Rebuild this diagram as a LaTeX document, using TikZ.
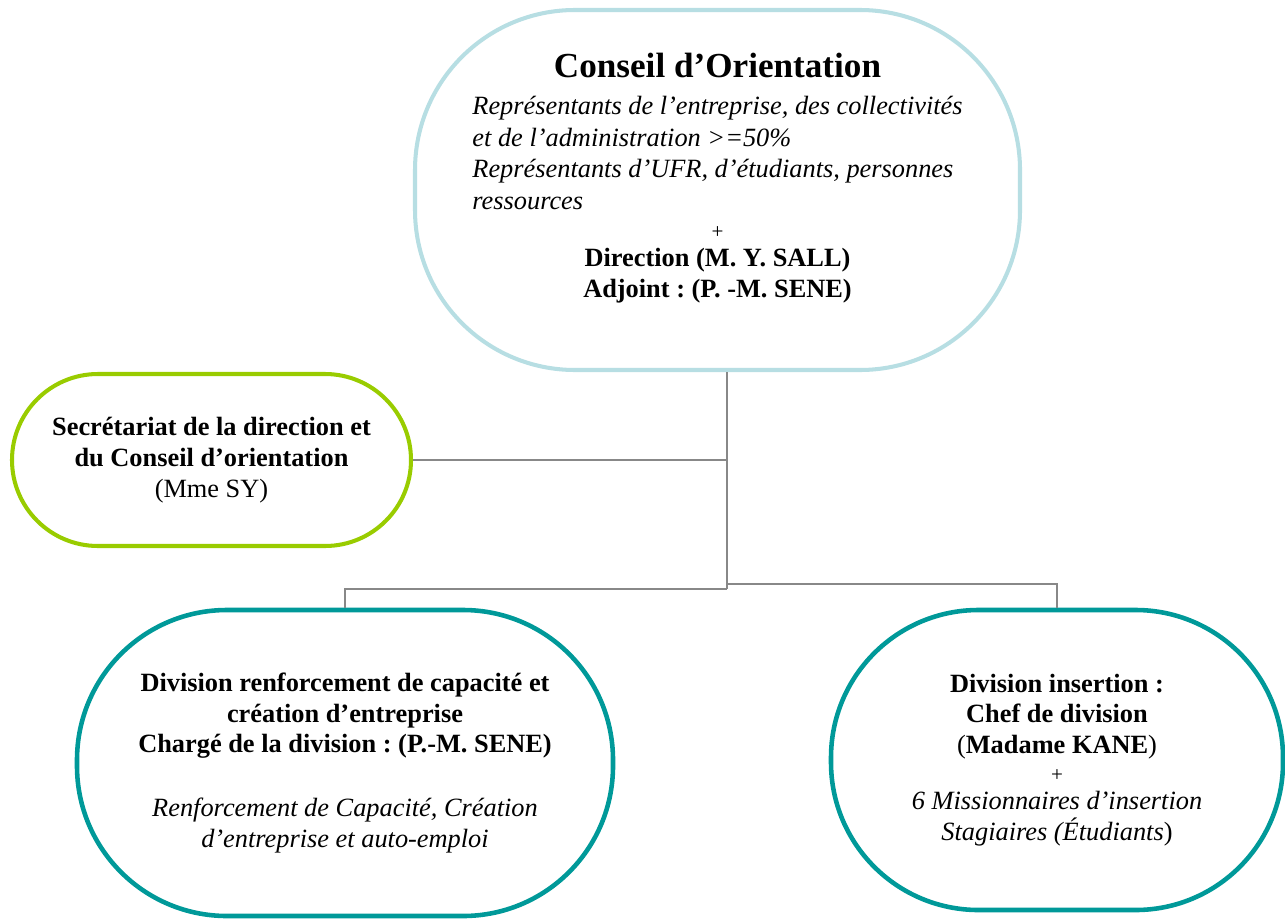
\documentclass[tikz,border=0pt]{standalone}
\usepackage{fontspec}
\setmainfont{Liberation Serif}
\definecolor{conseilblue}{RGB}{183,222,227}
\definecolor{secgreen}{RGB}{153,204,0}
\definecolor{divteal}{RGB}{0,153,153}
\definecolor{linkgray}{RGB}{136,136,136}
\tikzset{
    box/.style={draw, line width=2.3pt, fill=white, inner sep=0pt, align=center,
        font=\fontsize{15}{17.5}\selectfont\frenchspacing},
    link/.style={draw=linkgray, line width=0.85pt},
}
\begin{document}
\frenchspacing
\begin{tikzpicture}
            \useasboundingbox (0,0) rectangle (25.7,-18.42);
            \coordinate (c) at (14.35,-3.80);
            \coordinate (s) at (4.23,-9.20);
            \coordinate (da) at (6.90,-15.26);
            \coordinate (db) at (21.14,-15.20);
            \coordinate (j) at (14.54,-11.78);
            \coordinate (k) at (14.54,-11.68);
            \node[box, draw=conseilblue, rounded corners=3.2cm,
                minimum width=12.1cm, minimum height=7.2cm] (conseil) at (c) {};
            \node[font=\fontsize{15}{18}\selectfont\frenchspacing, inner sep=0pt] (conseiltext) at ([yshift=0.2cm]c) {%
                \begin{tabular}{@{}l@{}}
                \multicolumn{1}{@{}c@{}}{\fontsize{20}{24}\selectfont\bfseries Conseil d’Orientation}\\[3pt]
                \itshape Représentants de l’entreprise, des collectivités\\
                \itshape et de l’administration >=50\%\\
                \itshape Représentants d’UFR, d’étudiants, personnes\\
                \itshape ressources\\[-1.6pt]
                \multicolumn{1}{@{}c@{}}{\fontsize{12}{13}\selectfont +}\\[-2.1pt]
                \multicolumn{1}{@{}c@{}}{\bfseries Direction (M. Y. SALL)}\\[-0.4pt]
                \multicolumn{1}{@{}c@{}}{\bfseries Adjoint : (P. -M. SENE)}
                \end{tabular}};
            \node[box, draw=secgreen, rounded corners=1.72cm,
                minimum width=7.98cm, minimum height=3.44cm] (secretariat) at (s)
                {\textbf{Secrétariat de la direction et}\\
                 \textbf{du Conseil d’orientation}\\
                 (Mme SY)};
            \node[box, draw=divteal, line width=2.6pt, rounded corners=3.0cm,
                minimum width=10.72cm, minimum height=6.12cm] (divrenf) at (da)
                {\textbf{Division renforcement de capacité et}\\
                 \textbf{création d’entreprise}\\
                 \textbf{Chargé de la division : (P.-M. SENE)}\\[19pt]
                 \textit{Renforcement de Capacité, Création}\\
                 \textit{d’entreprise et auto-emploi}};
            \node[box, draw=divteal, line width=2.6pt, rounded corners=2.95cm,
                minimum width=9.04cm, minimum height=6.0cm] (divins) at (db)
                {\textbf{Division insertion :}\\
                 \textbf{Chef de division}\\
                 (\textbf{Madame KANE})\\[-1.5pt]
                 {\fontsize{12}{13}\selectfont +}\\[-1.5pt]
                 \textit{6 Missionnaires d’insertion}\\
                 \textit{Stagiaires (Étudiants})};
            \draw[link] (conseil.south -| j) -- (j);
            \draw[link] (secretariat.east) -- (secretariat.east -| j);
            \draw[link] (j) -| (divrenf.north);
            \draw[link] (k) -| (divins.north);
        \end{tikzpicture}
\end{document}
